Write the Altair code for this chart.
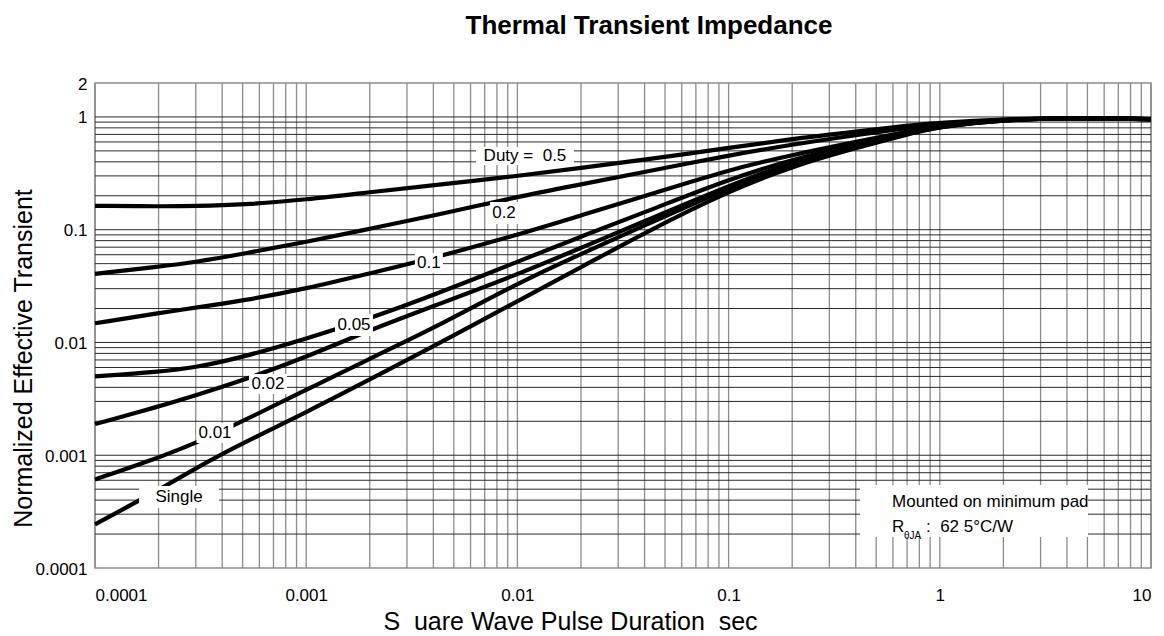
import altair as alt
import pandas as pd

FONT = "Liberation Sans"

# ---------------- data ----------------
t_sec = [0.0001, 0.0002, 0.0003, 0.0005, 0.001, 0.002, 0.004, 0.01, 0.02, 0.04,
         0.1, 0.2, 0.4, 0.7, 1, 2, 4, 7, 10]
z_05 = [0.163, 0.161, 0.162, 0.166, 0.185, 0.215, 0.248, 0.299, 0.353, 0.418,
        0.53, 0.64, 0.74, 0.84, 0.89, 0.955, 0.978, 0.972, 0.958]
z_02 = [0.0406, 0.047, 0.0516, 0.061, 0.078, 0.102, 0.133, 0.196, 0.252, 0.326,
        0.455, 0.57, 0.69, 0.80, 0.87, 0.952, 0.976, 0.971, 0.957]
z_01 = [0.0148, 0.0182, 0.0204, 0.0234, 0.030, 0.041, 0.056, 0.090, 0.134, 0.198,
        0.34, 0.46, 0.60, 0.74, 0.84, 0.95, 0.975, 0.97, 0.956]
z_005 = [0.0050, 0.0055, 0.0060, 0.0074, 0.0108, 0.0163, 0.0262, 0.052, 0.087, 0.1425,
         0.28, 0.42, 0.57, 0.72, 0.83, 0.948, 0.975, 0.97, 0.955]
z_002 = [0.00189, 0.0027, 0.0034, 0.0046, 0.0074, 0.0129, 0.021, 0.040, 0.069, 0.119,
         0.245, 0.40, 0.555, 0.72, 0.83, 0.947, 0.974, 0.97, 0.955]
z_001 = [0.00061, 0.00095, 0.00128, 0.0020, 0.0038, 0.0072, 0.0133, 0.0335, 0.061, 0.109,
         0.235, 0.39, 0.545, 0.71, 0.82, 0.946, 0.974, 0.97, 0.955]
z_single = [0.000244, 0.00049, 0.00077, 0.00128, 0.0024, 0.0047, 0.0092, 0.0233, 0.0463, 0.094,
            0.22, 0.365, 0.53, 0.70, 0.82, 0.945, 0.974, 0.97, 0.955]
series_names = ["0.5", "0.2", "0.1", "0.05", "0.02", "0.01", "Single"]
series_values = [z_05, z_02, z_01, z_005, z_002, z_001, z_single]

# curve labels (white boxed)
label_text = ["Duty =\u00a0\u00a00.5", "0.2", "0.1", "0.05", "0.02", "0.01", "Single"]
label_x = [0.01086, 0.00864, 0.00381, 0.001684, 0.000659, 0.00037, 0.00025]
label_y = [0.450, 0.1406, 0.0506, 0.01427, 0.00428, 0.001574, 0.000426]
label_box_w = [98, 28, 28, 38, 38, 37, 80]
label_box_h = [18, 22, 20, 22, 20, 20, 22]

# note box
note_box_x = [1.452]
note_box_y = [0.00032]
note_box_w = [228]
note_box_h = [52]
note_text = ["Mounted on minimum pad", "R", "\u03b8JA", ":\u00a0\u00a062 5\u00b0C/W"]
note_x = [0.594, 0.594, 0.677, 0.86]
note_y = [0.000347, 0.000208, 0.000181, 0.000208]
note_size = [17, 17, 10, 17]

# axes
x_ticks = [0.0001, 0.001, 0.01, 0.1, 1, 10]
y_ticks = [0.0001, 0.001, 0.01, 0.1, 1, 2]
x_grid = [m * 10.0 ** e for e in range(-4, 1) for m in range(1, 10)] + [10]
y_grid = [m * 10.0 ** e for e in range(-4, 0) for m in range(1, 10)][1:] + [1]

# ---------------- chart ----------------
xs = alt.Scale(type="log", domain=[0.0001, 10], nice=False)
ys = alt.Scale(type="log", domain=[0.0001, 2], nice=False)

x_axis = alt.Axis(values=x_ticks, labelExpr="format(datum.value, '.4~f')",
                  title="S\u00a0\u00a0uare Wave Pulse Duration\u00a0\u00a0sec",
                  titleX=475, titleY=61, titleAlign="center",
                  titleBaseline="alphabetic", titleFontSize=25,
                  titleFontWeight="normal", titleFont=FONT, titleColor="black",
                  labelFont=FONT, labelFontSize=17, labelColor="black",
                  labelBaseline="alphabetic", labelPadding=32,
                  domain=False, ticks=False, grid=False)
y_axis = alt.Axis(values=y_ticks, labelExpr="format(datum.value, '.4~f')",
                  title="Normalized Effective Transient",
                  titleX=-64, titleY=275, titleAngle=270, titleAlign="center",
                  titleBaseline="alphabetic", titleFontSize=25,
                  titleFontWeight="normal", titleFont=FONT, titleColor="black",
                  labelFont=FONT, labelFontSize=17, labelColor="black",
                  labelBaseline="middle", labelPadding=8, labelOffset=1,
                  domain=False, ticks=False, grid=False)


def X(field):
    return alt.X(field, scale=xs, axis=x_axis)


def Y(field):
    return alt.Y(field, scale=ys, axis=y_axis)


rows = []
for name, vals in zip(series_names, series_values):
    for t, z in zip(t_sec, vals):
        rows.append({"t": t, "z": z, "duty": name})
curves_df = pd.DataFrame(rows)

vgrid = alt.Chart(pd.DataFrame({"g": x_grid})).mark_rule(
    color="#8c8c8c", strokeWidth=1.3
).encode(x=X("g:Q"))

hgrid = alt.Chart(pd.DataFrame({"g": y_grid})).mark_rule(
    color="#2a2a2a", strokeWidth=1
).encode(y=Y("g:Q"))

curves = alt.Chart(curves_df).mark_line(
    color="black", strokeWidth=4.2, interpolate="basis", strokeCap="butt"
).encode(x=X("t:Q"), y=Y("z:Q"), detail="duty:N")

layers = [vgrid, hgrid, curves]

lab_df = pd.DataFrame({"text": label_text, "x": label_x, "y": label_y,
                       "w": label_box_w, "h": label_box_h})
for i in range(len(label_text)):
    w = label_box_w[i]
    h = label_box_h[i]
    r = h / w
    path = f"M-1,{-r}L1,{-r}L1,{r}L-1,{r}Z"
    layers.append(
        alt.Chart(lab_df.iloc[[i]]).mark_point(
            shape=path, size=w * w, filled=True, color="white", opacity=1, strokeWidth=0
        ).encode(x=X("x:Q"), y=Y("y:Q"))
    )

nb_df = pd.DataFrame({"x": note_box_x, "y": note_box_y})
rn = note_box_h[0] / note_box_w[0]
layers.append(
    alt.Chart(nb_df).mark_point(
        shape=f"M-1,{-rn}L1,{-rn}L1,{rn}L-1,{rn}Z", size=note_box_w[0] ** 2,
        filled=True, color="white", opacity=1, strokeWidth=0
    ).encode(x=X("x:Q"), y=Y("y:Q"))
)

layers.append(
    alt.Chart(lab_df).mark_text(font=FONT, fontSize=17, color="black",
                                align="center", baseline="middle").encode(
        x=X("x:Q"), y=Y("y:Q"), text="text:N")
)

note_df = pd.DataFrame({"text": note_text, "x": note_x, "y": note_y, "s": note_size})
layers.append(
    alt.Chart(note_df).mark_text(font=FONT, color="black", align="left",
                                 baseline="alphabetic").encode(
        x=X("x:Q"), y=Y("y:Q"),
        text="text:N", size=alt.Size("s:Q", scale=None, legend=None))
)

chart = alt.layer(*layers).properties(
    width=1056, height=485, background="white",
    title=alt.TitleParams("Thermal Transient Impedance", font=FONT, fontSize=26,
                          fontWeight="bold", anchor="middle", frame="group",
                          baseline="alphabetic", offset=15, dx=26, color="black"),
    autosize=alt.AutoSizeParams(type="none"),
    padding={"left": 87, "top": 75, "right": 5, "bottom": 66},
).configure_view(stroke="#8c8c8c", strokeWidth=1.5)

chart.save("out.html", embed_options={"renderer": "svg", "actions": False})
